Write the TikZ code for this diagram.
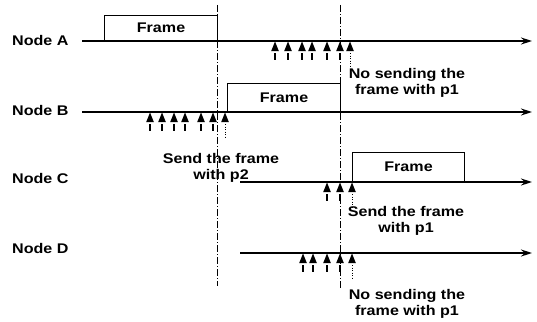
\documentclass[tikz,border=0pt]{standalone}
\usepackage{fontspec}
\setmainfont{Liberation Sans}[FakeStretch=1.15]
\usetikzlibrary{arrows.meta}
\begin{document}
\begin{tikzpicture}[x=1pt,y=-1pt,
  font=\fontsize{14}{16}\selectfont\bfseries,
  tl/.style={line width=1.5pt, -{Stealth[length=11pt,width=7pt]}},
  frm/.style={draw, line width=1.1pt, anchor=south west, inner sep=0pt},
  vdash/.style={line width=0.9pt, dash pattern=on 7pt off 2pt on 1pt off 2pt},
  lbl/.style={anchor=west, inner sep=0pt},
  note/.style={align=center, inner sep=0pt},
  sigd/.pic={\fill (-3.8,10) -- (0,0.5) -- (3.8,10) -- cycle;
            \draw[line width=0.8pt, dash pattern=on 1pt off 1.5pt] (0,12) -- (0,25);},
  sigs/.pic={\fill (-3.8,10) -- (0,0.5) -- (3.8,10) -- cycle;
            \draw[line width=1.3pt] (0,12) -- (0,19);}
]
\useasboundingbox (0,0) rectangle (537,321);

% labels
\node[lbl] (la) at (12,40) {Node A};
\node[lbl] (lb) at (12,110) {Node B};
\node[lbl] (lc) at (12,178) {Node C};
\node[lbl] (ld) at (12,248) {Node D};

% timelines
\coordinate (a0) at (82,41);  \coordinate (a1) at (532,41);
\coordinate (b0) at (82,112); \coordinate (b1) at (532,112);
\coordinate (c0) at (240,182); \coordinate (c1) at (532,182);
\coordinate (d0) at (240,253); \coordinate (d1) at (532,253);
\draw[tl] (a0) -- (a1);
\draw[tl] (b0) -- (b1);
\draw[tl] (c0) -- (c1);
\draw[tl] (d0) -- (d1);

% frames
\node[frm, minimum width=113pt, minimum height=25pt] (fa) at (104,41) {Frame};
\node[frm, minimum width=113pt, minimum height=28pt] (fb) at (227,112) {Frame};
\node[frm, minimum width=112pt, minimum height=29pt] (fc) at (352,182) {Frame};

% vertical dash-dot lines
\coordinate (v1t) at (217,5); \coordinate (v1b) at (217,286);
\coordinate (v2t) at (340,5); \coordinate (v2b) at (340,288);
\draw[vdash] (v1t) -- (v1b);
\draw[vdash] (v2t) -- (v2b);

% signals on A
\foreach \x in {275,288,302,312,327,340} \pic at (\x,41) {sigs};
\pic at (350,41) {sigd};
% signals on B
\foreach \x in {150,162,174,185,201,213} \pic at (\x,112) {sigs};
\pic at (225,112) {sigd};
% signals on C
\foreach \x in {327,340} \pic at (\x,182) {sigs};
\pic at (352,182) {sigd};
% signals on D
\foreach \x in {303,313,327,340} \pic at (\x,253) {sigs};
\pic at (352,253) {sigd};

% notes
\node[note] (n1) at (407,83) {No sending the\\frame with p1};
\node[note] (n2) at (221,168) {Send the frame\\with p2};
\node[note] (n3) at (406,221) {Send the frame\\with p1};
\node[note] (n4) at (407,304) {No sending the\\frame with p1};
\end{tikzpicture}
\end{document}
